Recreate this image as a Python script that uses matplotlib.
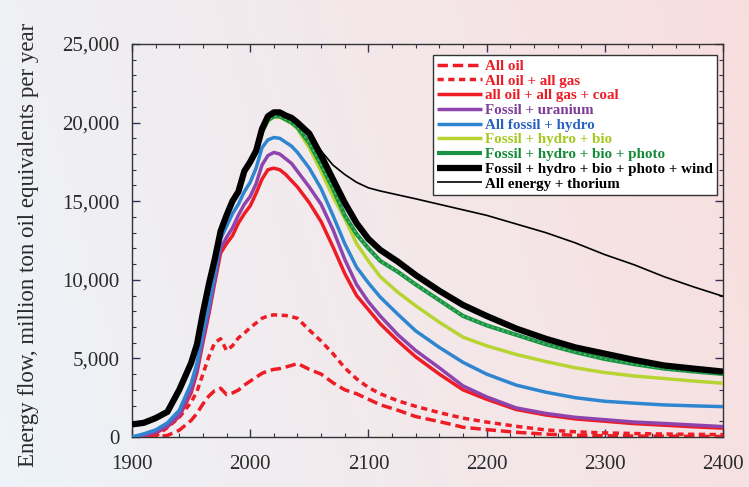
import numpy as np
import matplotlib
matplotlib.use("Agg")
import matplotlib.pyplot as plt
from matplotlib.ticker import MultipleLocator

# Data
years = [1900, 1910, 1920, 1930, 1940, 1950, 1955, 1960, 1965, 1970, 1975, 1980,
         1985, 1990, 1995, 2000, 2005, 2010, 2015, 2020, 2025, 2030, 2035, 2040,
         2050, 2060, 2070, 2080, 2090, 2100, 2110, 2125, 2140, 2160, 2180, 2200,
         2225, 2250, 2275, 2300, 2325, 2350, 2375, 2400]

all_oil = [0, 0, 0, 100, 430, 1050, 1500, 2100, 2600, 2950, 3100, 2700,
           2800, 2980, 3300, 3550, 3800, 4050, 4200, 4300, 4350, 4450, 4550, 4680,
           4300, 4000, 3450, 3000, 2750, 2400, 2050, 1700, 1300, 980, 620, 470,
           300, 180, 110, 80, 60, 50, 40, 30]

oil_gas = [0, 0, 50, 600, 1250, 2200, 2900, 4000, 5100, 6000, 6250, 5500,
           5800, 6300, 6600, 6950, 7250, 7550, 7700, 7770, 7750, 7730, 7650, 7550,
           6800, 6100, 5300, 4400, 3700, 3150, 2750, 2300, 1950, 1550, 1200, 950,
           680, 450, 330, 260, 220, 190, 170, 150]

oil_gas_coal = [0, 50, 250, 650, 1300, 2800, 4100, 6000, 7800, 9800, 11700, 12300,
                12800, 13600, 14200, 14700, 15500, 16400, 17000, 17100, 17000, 16700, 16300, 15900,
                14900, 13700, 12100, 10400, 9000, 8100, 7200, 6100, 5100, 4000, 3000, 2400,
                1750, 1400, 1150, 1000, 850, 750, 650, 560]

fossil_uranium = [0, 100, 300, 700, 1400, 3000, 4300, 6200, 8000, 10000, 12000, 12700,
                  13300, 14100, 14800, 15300, 16100, 17300, 17900, 18100, 18000, 17700, 17400, 16900,
                  15900, 14800, 13200, 11300, 9700, 8600, 7700, 6500, 5500, 4400, 3250, 2550,
                  1850, 1500, 1250, 1100, 950, 860, 760, 660]

fossil_hydro = [0, 200, 450, 900, 1700, 3400, 4700, 6600, 8400, 10300, 12600, 13400,
                14200, 14800, 15600, 16200, 17100, 18400, 18900, 19050, 19000, 18750, 18500, 18100,
                17100, 15800, 14100, 12300, 10800, 9800, 8900, 7800, 6750, 5700, 4750, 4000,
                3300, 2850, 2500, 2270, 2150, 2040, 1980, 1930]

hydro_bio = [750, 850, 1150, 1550, 2950, 4650, 5850, 7850, 9650, 11250, 13050, 14050,
             14950, 15550, 16850, 17350, 18050, 19350, 20100, 20350, 20350, 20150, 19950, 19600,
             18400, 16900, 15300, 13900, 12300, 11200, 10200, 9200, 8350, 7300, 6350, 5800,
             5250, 4800, 4400, 4100, 3880, 3720, 3560, 3420]

hydro_bio_photo = [780, 880, 1180, 1580, 2980, 4680, 5880, 7880, 9680, 11280, 13080, 14080,
                   14980, 15580, 16880, 17400, 18100, 19400, 20150, 20400, 20400, 20200, 20000, 19700,
                   18700, 17300, 15800, 14100, 12900, 12000, 11200, 10500, 9700, 8700, 7700, 7100,
                   6500, 5900, 5400, 4960, 4630, 4350, 4170, 4010]

hydro_bio_photo_wind = [800, 900, 1200, 1600, 3000, 4700, 5900, 7900, 9700, 11300, 13100, 14100,
                        15000, 15600, 16900, 17500, 18200, 19600, 20400, 20650, 20650, 20450, 20300, 20000,
                        19300, 17900, 16400, 14900, 13600, 12600, 11900, 11150, 10300, 9300, 8400, 7700,
                        6900, 6250, 5700, 5300, 4900, 4550, 4350, 4160]

all_thorium = [800, 900, 1200, 1600, 3000, 4700, 5900, 7900, 9700, 11300, 13100, 14100,
               15000, 15600, 16900, 17500, 18200, 19600, 20400, 20650, 20650, 20450, 20300, 20000,
               19300, 18200, 17300, 16700, 16200, 15850, 15650, 15400, 15150, 14800, 14450, 14100,
               13550, 13000, 12350, 11600, 10950, 10200, 9550, 8950]

x_ticks = [1900, 2000, 2100, 2200, 2300, 2400]
y_ticks = [0, 5000, 10000, 15000, 20000, 25000]
y_tick_labels = ["0", "5,000", "10,000", "15,000", "20,000", "25,000"]

series = [
    ("All oil", all_oil, "#ee1c25", 2.5, (0, (3.0, 1.4)), "#ee1c25"),
    ("All oil + all gas", oil_gas, "#ee1c25", 2.5, (0, (1.8, 1.3)), "#ee1c25"),
    ("all oil + all gas + coal", oil_gas_coal, "#ee1c25", 2.5, "-", "#ee1c25"),
    ("Fossil + uranium", fossil_uranium, "#8e44ad", 2.5, "-", "#7d3c98"),
    ("All fossil + hydro", fossil_hydro, "#2f86d0", 2.5, "-", "#2a62c0"),
    ("Fossil + hydro + bio", hydro_bio, "#b7d433", 2.5, "-", "#a6c81e"),
    ("Fossil + hydro + bio + photo", hydro_bio_photo, "#1a9444", 3.0, "-", "#138a36"),
    ("Fossil + hydro + bio + photo + wind", hydro_bio_photo_wind, "black", 4.5, "-", "black"),
    ("All energy + thorium", all_thorium, "black", 1.2, "-", "black"),
]

plt.rcParams["font.family"] = ["Liberation Serif", "DejaVu Serif"]

fig = plt.figure(figsize=(7.49, 4.87), dpi=100)

# background gradient, blue-ish left to pink right
bg = fig.add_axes([0, 0, 1, 1], zorder=-10)
gx = np.linspace(0, 1, 300)[None, :, None]
gy = np.linspace(0, 1, 200)[:, None, None]
left_c = np.array([0.93, 0.955, 0.975])
right_c = np.array([0.975, 0.87, 0.87])
t = np.clip(gx * 0.85 + (1 - gy) * 0.15, 0, 1)
img = left_c * (1 - t) + right_c * t
bg.imshow(img, aspect="auto", extent=[0, 1, 0, 1])
bg.axis("off")

ax = fig.add_axes([0.1762, 0.1027, 0.7891, 0.807])
ax.set_facecolor("none")

for i, (label, vals, color, lw, ls, _) in enumerate(series):
    ax.plot(years, vals, color=color, lw=lw, linestyle=ls, label=label,
            zorder=2 + i, solid_capstyle="butt", dash_capstyle="butt")
    if label == "Fossil + hydro + bio + photo":
        # lighter dots along the green line, as in the original
        ax.plot(years, vals, color="#5cc46e", lw=1.2, linestyle=(0, (1, 2.2)),
                zorder=2 + i)

ax.set_xlim(1900, 2400)
ax.set_ylim(0, 25000)
ax.set_xticks(x_ticks)
ax.set_yticks(y_ticks)
ax.set_yticklabels(y_tick_labels)
ax.xaxis.set_minor_locator(MultipleLocator(20))
ax.yaxis.set_minor_locator(MultipleLocator(1000))
ax.tick_params(which="both", direction="in", top=True, right=True,
               colors="#333355", labelcolor="#2a2a2a", labelsize=15)
ax.tick_params(which="major", length=6, width=1)
ax.tick_params(which="minor", length=3, width=0.8)
ax.tick_params(axis="x", pad=13)
ax.tick_params(axis="y", pad=9)
for sp in ax.spines.values():
    sp.set_color("#333333")
    sp.set_linewidth(1.0)

ax.set_ylabel("Energy flow, million ton oil equivalents per year", fontsize=16.5,
              color="#2a2a2a")
ax.yaxis.set_label_coords(-0.158, 0.49)

leg = ax.legend(loc="upper right", bbox_to_anchor=(0.99, 0.972), borderaxespad=0,
                fancybox=False, framealpha=1, edgecolor="#333333",
                prop={"weight": "bold", "size": 10.8}, labelspacing=0.08,
                handlelength=3.0, handletextpad=0.15, borderpad=0.3)
leg.get_frame().set_linewidth(1.0)
for txt, s in zip(leg.get_texts(), series):
    txt.set_color(s[5])

fig.savefig("out.png", dpi=100)
